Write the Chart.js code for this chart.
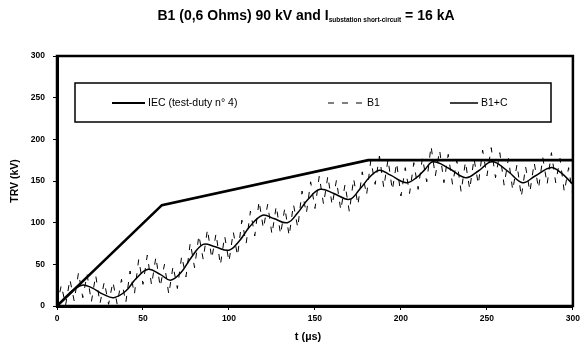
<!DOCTYPE html>
<html>
<head>
<meta charset="utf-8">
<script src="https://cdn.jsdelivr.net/npm/chart.js@4.4.0/dist/chart.umd.min.js"></script>
<style>
  html, body { margin: 0; padding: 0; background: #fff; }
</style>
</head>
<body>
<canvas id="chart" width="584" height="348"></canvas>
<script>
// IEC envelope (test-duty n° 4)
const iecTime = [0, 61, 181, 300];
const iecValues = [0, 121, 175, 175];

// B1+C : smooth oscillating TRV
const bcTime = [0, 7, 14.5, 20, 27, 33, 40, 46, 53, 60, 66, 72, 78, 85, 92, 100, 106, 112, 119.5, 126, 134, 140, 146, 153, 161, 170, 176, 182, 187.5, 194, 203, 209, 214, 218.7, 228, 237.7, 245, 253, 262, 270.6, 278, 287, 293, 300];
const bcValues = [0, 15, 25, 22, 14, 10, 18, 33, 44, 38, 31, 40, 58, 74, 71, 67, 78, 95, 109, 105, 100, 112, 128, 140, 135, 128, 140, 155, 163, 157, 148, 154, 164, 173, 165, 154, 162, 173, 162, 148, 156, 166, 160, 146];

// B1 : fast oscillation, sampled every 2.5 µs
const b1Step = 2.5;
const b1Values = [
  0, 25, 1, 32, 6, 40, 10, 38, 5, 37,
  3, 29, 2, 29, 2, 32, 4, 42, 14, 56,
  26, 61, 25, 59, 23, 50, 14, 48, 21, 60,
  35, 76, 46, 85, 56, 92, 57, 87, 49, 84,
  53, 89, 60, 103, 75, 114, 84, 126, 93, 122,
  86, 120, 86, 118, 84, 122, 94, 138, 111, 149,
  117, 156, 122, 156, 121, 151, 115, 146, 113, 153,
  121, 161, 133, 175, 146, 180, 142, 176, 139, 172,
  132, 166, 135, 172, 140, 178, 149, 192, 156, 187,
  148, 182, 146, 175, 137, 173, 140, 177, 146, 187,
  156, 190, 154, 184, 145, 177, 139, 170, 131, 167,
  137, 172, 141, 178, 146, 184, 148, 177, 137, 166,
  132
];

const xTicks = [0, 50, 100, 150, 200, 250, 300];
const yTicks = [0, 50, 100, 150, 200, 250, 300];

const FONT = "Arial, 'Liberation Sans', sans-serif";

function toPoints(xs, ys) {
  return ys.map((y, i) => ({ x: xs[i], y: y }));
}

// cadre noir autour de la zone de tracé
const framePlugin = {
  id: "frame",
  afterDatasetsDraw(chart) {
    const { ctx, chartArea: a } = chart;
    ctx.save();
    ctx.strokeStyle = "#000";
    ctx.lineWidth = 2.5;
    ctx.strokeRect(a.left, a.top, a.right - a.left, a.bottom - a.top);
    ctx.restore();
  },
};

// légende encadrée dans le graphique
const legendBoxPlugin = {
  id: "legendBox",
  afterDraw(chart) {
    const ctx = chart.ctx;
    const ds = chart.data.datasets;
    ctx.save();
    ctx.fillStyle = "#fff";
    ctx.fillRect(75, 83, 476, 39);
    ctx.strokeStyle = "#000";
    ctx.lineWidth = 1.5;
    ctx.strokeRect(75, 83, 476, 39);
    const entries = [
      { ds: ds[0], x0: 112, x1: 145 },
      { ds: ds[1], x0: 328, x1: 364 },
      { ds: ds[2], x0: 450, x1: 478 },
    ];
    const y = 103;
    ctx.font = "10.5px " + FONT;
    ctx.textBaseline = "middle";
    entries.forEach((e) => {
      ctx.strokeStyle = "#000";
      ctx.lineWidth = Math.min(e.ds.borderWidth, 2);
      ctx.setLineDash(e.ds.borderDash || []);
      ctx.beginPath();
      ctx.moveTo(e.x0, y);
      ctx.lineTo(e.x1, y);
      ctx.stroke();
      ctx.setLineDash([]);
      ctx.fillStyle = "#000";
      ctx.fillText(e.ds.label, e.x1 + 3, y);
    });
    ctx.restore();
  },
};

// titre avec indice + titres des axes
const textPlugin = {
  id: "texts",
  afterDraw(chart) {
    const ctx = chart.ctx;
    ctx.save();
    ctx.fillStyle = "#000";
    ctx.textBaseline = "alphabetic";
    const part1 = "B1 (0,6 Ohms) 90 kV and I";
    const sub = "substation short-circuit";
    const part2 = " = 16 kA";
    const big = "bold 14px " + FONT;
    const small = "bold 6.5px " + FONT;
    ctx.font = big;
    const w1 = ctx.measureText(part1).width;
    const w3 = ctx.measureText(part2).width;
    ctx.font = small;
    const w2 = ctx.measureText(sub).width;
    let x = 306 - (w1 + w2 + w3) / 2;
    ctx.font = big;
    ctx.fillText(part1, x, 20);
    x += w1;
    ctx.font = small;
    ctx.fillText(sub, x, 22);
    x += w2;
    ctx.font = big;
    ctx.fillText(part2, x, 20);

    ctx.font = "bold 11px " + FONT;
    ctx.textAlign = "center";
    ctx.textBaseline = "middle";
    ctx.fillText("t (µs)", 308, 337);
    ctx.translate(15, 181);
    ctx.rotate(-Math.PI / 2);
    ctx.font = "bold 10.5px " + FONT;
    ctx.fillText("TRV (kV)", 0, 0);
    ctx.restore();
  },
};

const ctx = document.getElementById("chart").getContext("2d");
new Chart(ctx, {
  type: "line",
  data: {
    datasets: [
      {
        label: "IEC (test-duty n° 4)",
        data: toPoints(iecTime, iecValues),
        borderColor: "#000",
        borderWidth: 2.6,
        pointRadius: 0,
        tension: 0,
      },
      {
        label: "B1",
        data: b1Values.map((v, i) => ({ x: i * b1Step, y: v })),
        borderColor: "#000",
        borderWidth: 1,
        borderDash: [6, 8],
        pointRadius: 0,
        tension: 0,
      },
      {
        label: "B1+C",
        data: toPoints(bcTime, bcValues),
        borderColor: "#000",
        borderWidth: 1.5,
        pointRadius: 0,
        tension: 0.4,
      },
    ],
  },
  options: {
    responsive: false,
    animation: false,
    layout: { padding: { top: 56, right: 6, left: 0, bottom: 0 } },
    plugins: {
      legend: { display: false },
      title: { display: false },
      tooltip: { enabled: false },
    },
    scales: {
      x: {
        type: "linear",
        min: 0,
        max: 300,
        afterBuildTicks: (s) => { s.ticks = xTicks.map((v) => ({ value: v })); },
        ticks: {
          color: "#000",
          padding: 4,
          maxRotation: 0,
          font: { family: FONT, size: 8.5, weight: "bold" },
        },
        grid: { display: true, drawOnChartArea: false, tickLength: 4, color: "#000" },
        border: { color: "#000", width: 3 },
        afterFit: (s) => { s.height = 42; },
      },
      y: {
        min: 0,
        max: 300,
        afterBuildTicks: (s) => { s.ticks = yTicks.map((v) => ({ value: v })); },
        ticks: {
          color: "#000",
          padding: 8,
          font: { family: FONT, size: 8.5, weight: "bold" },
        },
        grid: { display: true, drawOnChartArea: false, tickLength: 4, color: "#000" },
        border: { color: "#000", width: 3 },
        afterFit: (s) => { s.width = 57; },
      },
    },
  },
  plugins: [framePlugin, legendBoxPlugin, textPlugin],
});
</script>
</body>
</html>
